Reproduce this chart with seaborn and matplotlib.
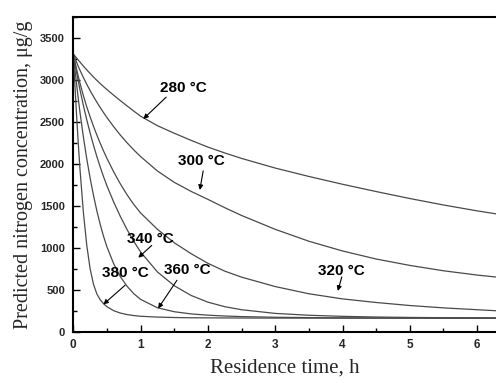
import numpy as np
import pandas as pd
import matplotlib
matplotlib.use("Agg")
import matplotlib.pyplot as plt
from matplotlib.ticker import MultipleLocator
import seaborn as sns

# ---- data ----
time_h = [0, 0.025, 0.05, 0.075, 0.1, 0.15, 0.2, 0.25, 0.3, 0.35, 0.4, 0.45, 0.5,
          0.6, 0.7, 0.8, 0.9, 1.0, 1.25, 1.5, 1.75, 2.0, 2.25, 2.5, 3.0, 3.5, 4.0, 4.5,
          5.0, 5.5, 6.0, 6.3]
temps = ["280 °C", "300 °C", "320 °C", "340 °C", "360 °C", "380 °C"]
n_280 = [3310, 3285, 3260, 3236, 3212, 3165, 3120, 3077, 3035, 2995, 2957, 2920, 2885,
         2818, 2753, 2690, 2628, 2568, 2455, 2365, 2280, 2200, 2130, 2065, 1950, 1850,
         1757, 1670, 1587, 1510, 1440, 1402]
n_300 = [3310, 3258, 3208, 3160, 3114, 3028, 2948, 2873, 2802, 2735, 2671, 2610, 2552,
         2443, 2342, 2250, 2165, 2087, 1915, 1780, 1672, 1577, 1478, 1385, 1220, 1078,
         962, 866, 790, 726, 675, 650]
n_320 = [3310, 3215, 3125, 3040, 2960, 2812, 2680, 2560, 2448, 2343, 2245, 2152, 2065,
         1905, 1760, 1630, 1515, 1415, 1220, 1060, 930, 815, 722, 650, 538, 452,
         391, 348, 312, 284, 262, 249]
n_340 = [3310, 3195, 3085, 2980, 2880, 2695, 2525, 2368, 2222, 2087, 1962, 1846, 1738,
         1545, 1372, 1215, 1075, 950, 712, 548, 432, 352, 298, 262, 218, 196,
         183, 175, 170, 167, 165, 164]
n_360 = [3310, 3120, 2940, 2770, 2610, 2320, 2060, 1830, 1625, 1440, 1278, 1135, 1010,
         810, 655, 540, 452, 385, 285, 238, 212, 197, 187, 180, 172, 168,
         165, 164, 163, 162, 162, 162]
n_380 = [3310, 2920, 2560, 2230, 1930, 1420, 1030, 750, 565, 450, 380, 333, 298,
         250, 222, 204, 192, 184, 174, 169, 166, 165, 164, 163, 162, 162,
         161, 161, 161, 161, 161, 161]
series = [n_280, n_300, n_320, n_340, n_360, n_380]

# label text position (t, value), arrow tail and tip (t, value)
label_xy = [(1.63, 2900), (1.91, 2040), (3.99, 722), (1.14, 1108), (1.69, 732), (0.78, 696)]
arrow_from = [(1.38, 2795), (1.93, 1916), (3.99, 652), (1.165, 1028), (1.54, 613), (0.77, 554)]
arrow_tip = [(1.04, 2535), (1.88, 1689), (3.93, 486), (0.966, 882), (1.26, 277), (0.446, 325)]

df = pd.DataFrame({
    "time": np.tile(time_h, len(temps)),
    "conc": np.concatenate(series),
    "temp": np.repeat(temps, len(time_h)),
})

sns.set_theme(style="ticks")
plt.rcParams["font.family"] = ["Liberation Sans", "DejaVu Sans"]

W, H = 496, 383
fig = plt.figure(figsize=(W / 100, H / 100), dpi=100)
left, right, top, bottom = 73.3, 496, 17, 331.7
ax = fig.add_axes([left / W, (H - bottom) / H, (right - left) / W, (bottom - top) / H])

sns.lineplot(data=df, x="time", y="conc", hue="temp", units="temp", estimator=None,
             palette=["#4a4a4a"] * len(temps), linewidth=0.9, legend=False, ax=ax)

ax.set_xlim(0, (right - left) / 67.3)
ax.set_ylim(0, 3750)
ax.xaxis.set_major_locator(MultipleLocator(1))
ax.xaxis.set_minor_locator(MultipleLocator(0.5))
ax.yaxis.set_major_locator(MultipleLocator(500))
ax.yaxis.set_minor_locator(MultipleLocator(250))
ax.tick_params(which="major", direction="in", length=5, width=1.0, color="black")
ax.tick_params(which="minor", direction="in", length=3, width=1.0, color="black")
ax.tick_params(axis="y", which="major", pad=6)
ax.tick_params(axis="x", which="major", pad=5)
for lab in ax.get_xticklabels():
    lab.set_fontweight("bold"); lab.set_fontsize(8.5)
for lab in ax.get_yticklabels():
    lab.set_fontweight("bold"); lab.set_fontsize(8)

for side in ["left", "bottom", "top"]:
    ax.spines[side].set_visible(True)
    ax.spines[side].set_linewidth(1.5)
    ax.spines[side].set_color("black")
ax.spines["right"].set_visible(False)

ax.set_xlabel("Residence time, h", fontsize=15, family=["Liberation Serif"], labelpad=6)
ax.set_ylabel("Predicted nitrogen concentration, μg/g", fontsize=14.5,
              family=["Liberation Serif", "DejaVu Serif"], labelpad=5)

for txt, xy, af, at in zip(temps, label_xy, arrow_from, arrow_tip):
    ax.text(xy[0], xy[1], txt, ha="center", va="center", fontsize=11,
            fontweight="bold", color="black")
    ax.annotate("", xy=at, xytext=af,
                arrowprops=dict(arrowstyle="-|>", color="black", lw=0.8,
                                mutation_scale=7, shrinkA=0, shrinkB=0))

fig.savefig("out.png", dpi=100)
